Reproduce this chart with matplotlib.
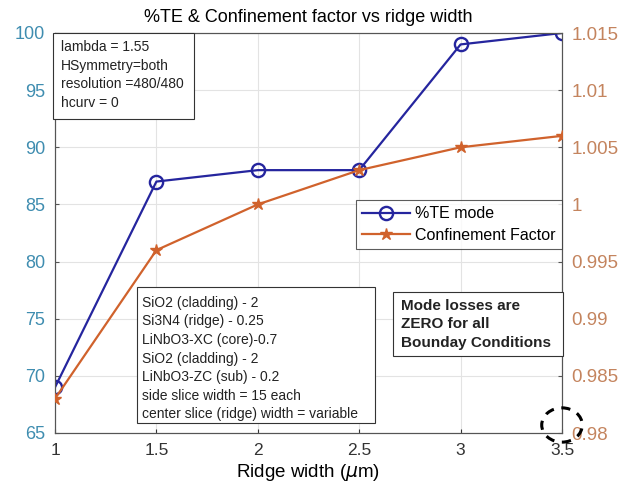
import matplotlib
matplotlib.use("Agg")
import matplotlib.pyplot as plt
from matplotlib.patches import Ellipse, Rectangle

plt.rcParams['font.family'] = ['Liberation Sans', 'DejaVu Sans']

ridge_width = [1.0, 1.5, 2.0, 2.5, 3.0, 3.5]
te_percent = [69, 87, 88, 88, 99, 100]
confinement = [0.983, 0.996, 1.000, 1.003, 1.005, 1.006]

left_ticks = [65, 70, 75, 80, 85, 90, 95, 100]
right_ticks = [0.98, 0.985, 0.99, 0.995, 1.0, 1.005, 1.01, 1.015]
right_labels = ["0.98", "0.985", "0.99", "0.995", "1", "1.005", "1.01", "1.015"]
x_ticks = [1, 1.5, 2, 2.5, 3, 3.5]
x_labels = ["1", "1.5", "2", "2.5", "3", "3.5"]

params_lines = ["lambda = 1.55", "HSymmetry=both", "resolution =480/480", "hcurv = 0"]
layer_lines = ["SiO2 (cladding) - 2", "Si3N4 (ridge) - 0.25", "LiNbO3-XC (core)-0.7",
               "SiO2 (cladding) - 2", "LiNbO3-ZC (sub) - 0.2", "side slice width = 15 each",
               "center slice (ridge) width = variable"]
loss_lines = ["Mode losses are", "ZERO for all", "Bounday Conditions"]

blue = "#25259e"
orange = "#d0622c"
left_col = "#3f8db0"
right_col = "#c4845e"
spine_col = "#555555"

W, H = 631, 493
fig = plt.figure(figsize=(W / 100, H / 100), dpi=100)
ax_l, ax_r, ax_t, ax_b = 55, 562, 33, 433
ax = fig.add_axes([ax_l / W, 1 - ax_b / H, (ax_r - ax_l) / W, (ax_b - ax_t) / H])
ax2 = ax.twinx()

l1, = ax.plot(ridge_width, te_percent, color=blue, lw=1.6, marker='o',
              markersize=9.5, markerfacecolor='none', markeredgewidth=1.7,
              label='%TE mode', zorder=3)
l2, = ax2.plot(ridge_width, confinement, color=orange, lw=1.6, marker='*',
               markersize=9, markerfacecolor=orange, markeredgecolor=orange,
               label='Confinement Factor', zorder=3)

ax.set_xlim(1, 3.5)
ax.set_ylim(65, 100)
ax2.set_ylim(0.98, 1.015)
ax.set_xticks(x_ticks)
ax.set_xticklabels(x_labels)
ax.set_yticks(left_ticks)
ax2.set_yticks(right_ticks)
ax2.set_yticklabels(right_labels)

ax.grid(True, color="#e3e3e3", lw=0.8)
ax.set_axisbelow(True)

ax.tick_params(axis='x', labelsize=12.5, colors='#333333', direction='in', length=3, pad=7)
ax.tick_params(axis='y', labelsize=13, labelcolor=left_col, color=spine_col,
               direction='in', length=3, pad=7)
ax2.tick_params(axis='y', labelsize=13.5, labelcolor=right_col, color=spine_col,
                direction='in', length=3, pad=7)
for a in (ax, ax2):
    for s in a.spines.values():
        s.set_color(spine_col)
        s.set_linewidth(0.8)

ax.set_title("%TE & Confinement factor vs ridge width", fontsize=13, pad=8)
ax.set_xlabel(r"Ridge width ($\mu$m)", fontsize=13.5, labelpad=3)

leg = ax2.legend(handles=[l1, l2], loc='upper right',
                 bbox_to_anchor=(1.0, (ax_b - 200) / (ax_b - ax_t)),
                 fontsize=11.5, frameon=True, fancybox=False, edgecolor='#333333',
                 handlelength=3.0, borderpad=0.4, labelspacing=0.4, handletextpad=0.3,
                 borderaxespad=0)
leg.get_frame().set_linewidth(0.8)


def px_to_axes(x, y):
    return (x - ax_l) / (ax_r - ax_l), (ax_b - y) / (ax_b - ax_t)


def text_box(lines, x0, y0, x1, y1, tx, ty, step, **kw):
    bx0, by0 = px_to_axes(x0, y1)
    bx1, by1 = px_to_axes(x1, y0)
    ax2.add_patch(Rectangle((bx0, by0), bx1 - bx0, by1 - by0, transform=ax.transAxes,
                            facecolor='white', edgecolor='#333333', lw=0.8,
                            clip_on=False, zorder=5))
    for i, line in enumerate(lines):
        px, py = px_to_axes(tx, ty + i * step)
        ax2.text(px, py, line, transform=ax.transAxes, va='center', ha='left',
                 color='#222222', zorder=6, **kw)


text_box(params_lines, 53, 33, 194, 119, 61, 47, 18.7, fontsize=10)
text_box(layer_lines, 137, 287, 375, 423, 142, 303, 18.5, fontsize=10)
text_box(loss_lines, 393, 292, 563, 356, 401, 306, 18.5, fontsize=11, fontweight='bold')

circ = Ellipse((3.5, 0.9807), width=0.2, height=0.003, transform=ax2.transData,
               fill=False, edgecolor='black', lw=2.2, linestyle=(0, (3, 2.5)),
               clip_on=False, zorder=7)
ax2.add_patch(circ)

fig.savefig("out.png", dpi=100)
